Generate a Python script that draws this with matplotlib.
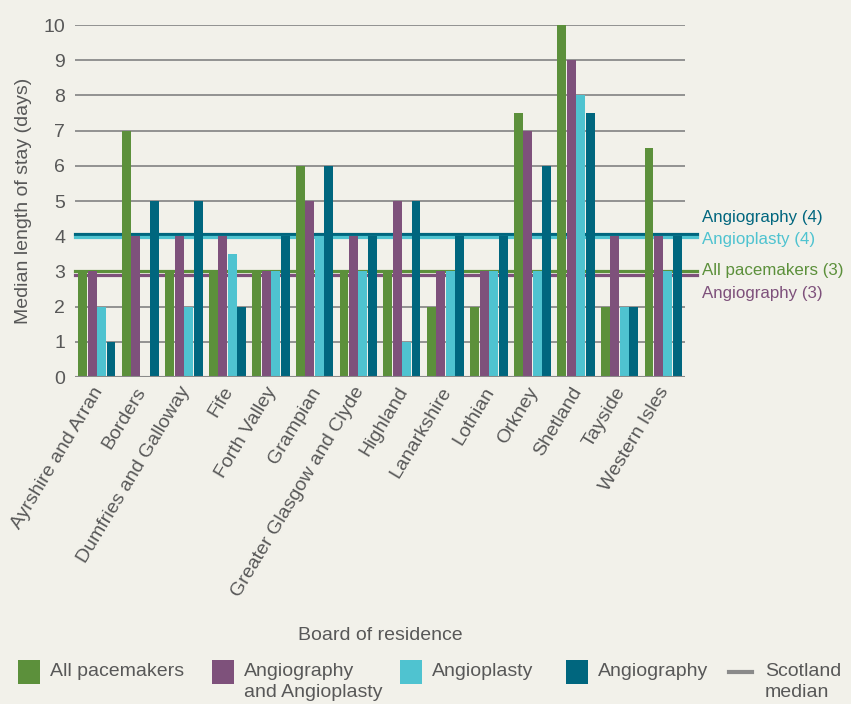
import matplotlib
matplotlib.use("Agg")
import matplotlib.pyplot as plt
import matplotlib.transforms as mtransforms
from matplotlib.patches import Rectangle
from matplotlib.lines import Line2D
import numpy as np

boards = ["Ayrshire and Arran", "Borders", "Dumfries and Galloway", "Fife",
          "Forth Valley", "Grampian", "Greater Glasgow and Clyde", "Highland",
          "Lanarkshire", "Lothian", "Orkney", "Shetland", "Tayside", "Western Isles"]
pacemakers = [3, 7, 3, 3, 3, 6, 3, 3, 2, 2, 7.5, 10, 2, 6.5]
angio_and_plasty = [3, 4, 4, 4, 3, 5, 4, 5, 3, 3, 7, 9, 4, 4]
angioplasty = [2, 0, 2, 3.5, 3, 4, 3, 1, 3, 3, 3, 8, 2, 3]
angiography = [1, 5, 5, 2, 4, 6, 4, 5, 4, 4, 6, 7.5, 2, 4]

series_names = ["All pacemakers", "Angiography\nand Angioplasty", "Angioplasty", "Angiography"]
colors = ["#5c903b", "#7e517b", "#4fc3d0", "#00667e"]

median_labels = ["Angiography (4)", "Angioplasty (4)", "All pacemakers (3)", "Angiography (3)"]
median_values = [4, 4, 3, 3]
median_colors = ["#00667e", "#4fc3d0", "#5c903b", "#7e517b"]
median_offsets = [0.07, -0.03, 0.0, -0.09]
label_y_px = [218, 240, 270, 293]

bg = "#f2f1ea"
txt = "#585858"
grid = "#8a8a8a"
plt.rcParams['font.family'] = ['Liberation Sans', 'DejaVu Sans']

W, H = 851, 704
fig = plt.figure(figsize=(W/100, H/100), dpi=100, facecolor=bg)
ax = fig.add_axes([75/W, 1-377/H, 610/W, 352/H], facecolor=bg)

x = np.arange(len(boards))
step = 0.218
width = 0.205
for k, (vals, c) in enumerate(zip([pacemakers, angio_and_plasty, angioplasty, angiography], colors)):
    ax.bar(x + (k - 1.5) * step, vals, width=width, color=c, zorder=6)

ax.set_xlim(-0.5, len(boards) - 0.5)
ax.set_ylim(0, 10)
ax.set_yticks(range(0, 11))
ax.yaxis.grid(True, color=grid, lw=1.3, zorder=0)
ax.set_axisbelow(True)
for s in ax.spines.values():
    s.set_visible(False)
ax.axhline(0, color=grid, lw=1.5, zorder=7)
ax.tick_params(axis='both', length=0, colors=txt, labelsize=14)
ax.tick_params(axis='y', pad=7)
ax.set_xticks(x - 0.12)
ax.set_xticklabels(boards, rotation=59, ha='right', rotation_mode='anchor', fontsize=14, color=txt)
ax.tick_params(axis='x', pad=5)

ax.set_ylabel("Median length of stay (days)", fontsize=14, color=txt, labelpad=8)
fig.text(380/W, 1-635/H, "Board of residence", ha='center', va='center', fontsize=14, color=txt)

trans = mtransforms.blended_transform_factory(ax.transAxes, ax.transData)
for v, c, off, lab, ypx in zip(median_values, median_colors, median_offsets, median_labels, label_y_px):
    ax.plot([0, 622/610], [v + off, v + off], color=c, lw=2.3, transform=trans, clip_on=False, zorder=5)
    fig.text(702/W, 1-ypx/H, lab, color=c, fontsize=12.2, va='center', ha='left')

# legend (manual layout)
sq_x = [18, 212, 400, 566]
for sx, c, name in zip(sq_x, colors, series_names):
    fig.patches.append(Rectangle((sx/W, 1-684/H), 22/W, 24/H, transform=fig.transFigure,
                                 facecolor=c, edgecolor='none'))
    fig.text((sx + 32)/W, 1-663/H, name, ha='left', va='top', fontsize=14, color=txt,
             linespacing=1.3)
fig.add_artist(Line2D([729/W, 752/W], [1-672/H, 1-672/H], color=grid, lw=3, transform=fig.transFigure))
fig.text(765/W, 1-663/H, "Scotland\nmedian", ha='left', va='top', fontsize=14, color=txt, linespacing=1.3)

fig.savefig("out.png", dpi=100, facecolor=bg)
